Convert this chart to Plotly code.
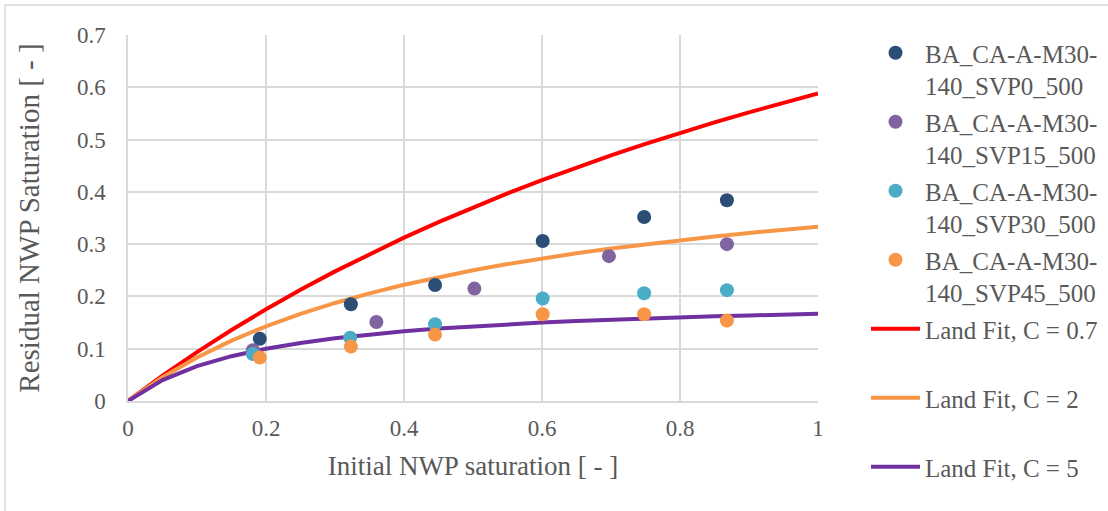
import plotly.graph_objects as go

# Measured residual vs initial non-wetting-phase saturation
sample_names = [
    "BA_CA-A-M30-<br>140_SVP0_500",
    "BA_CA-A-M30-<br>140_SVP15_500",
    "BA_CA-A-M30-<br>140_SVP30_500",
    "BA_CA-A-M30-<br>140_SVP45_500",
]
sample_colors = ["#2C4D75", "#8064A2", "#4BACC6", "#F79646"]

svp0_x = [0.191, 0.323, 0.445, 0.601, 0.748, 0.868]
svp0_y = [0.119, 0.185, 0.222, 0.306, 0.352, 0.384]
svp15_x = [0.181, 0.360, 0.502, 0.697, 0.868]
svp15_y = [0.097, 0.151, 0.215, 0.277, 0.300]
svp30_x = [0.181, 0.322, 0.445, 0.601, 0.748, 0.868]
svp30_y = [0.090, 0.121, 0.147, 0.196, 0.206, 0.212]
svp45_x = [0.191, 0.323, 0.445, 0.601, 0.748, 0.868]
svp45_y = [0.083, 0.104, 0.127, 0.166, 0.166, 0.154]

# Land trapping curves
fit_x = [0.0, 0.05, 0.1, 0.15, 0.2, 0.25, 0.3, 0.35, 0.4, 0.45, 0.5,
         0.55, 0.6, 0.65, 0.7, 0.75, 0.8, 0.85, 0.9, 0.95, 1.0]
fit_c07 = [0.0, 0.0483, 0.0935, 0.1357, 0.1754, 0.2128, 0.2479, 0.2811, 0.3125, 0.3422, 0.3704,
           0.3971, 0.4225, 0.4467, 0.4698, 0.4918, 0.5128, 0.5329, 0.5521, 0.5706, 0.5882]
fit_c2 = [0.0, 0.0455, 0.0833, 0.1154, 0.1429, 0.1667, 0.1875, 0.2059, 0.2222, 0.2368, 0.25,
          0.2619, 0.2727, 0.2826, 0.2917, 0.3, 0.3077, 0.3148, 0.3214, 0.3276, 0.3333]
fit_c5 = [0.0, 0.04, 0.0667, 0.0857, 0.1, 0.1111, 0.12, 0.1273, 0.1333, 0.1385, 0.1429,
          0.1467, 0.15, 0.1529, 0.1556, 0.1579, 0.16, 0.1619, 0.1636, 0.1652, 0.1667]
fit_names = ["Land Fit, C = 0.7<br> ", "Land Fit, C = 2<br> ", "Land Fit, C = 5"]
fit_colors = ["#FF0000", "#F79646", "#7030A0"]

x_ticks = [0, 0.2, 0.4, 0.6, 0.8, 1]
x_tick_text = ["0", "0.2", "0.4", "0.6", "0.8", "1"]
y_ticks = [0, 0.1, 0.2, 0.3, 0.4, 0.5, 0.6, 0.7]
y_tick_text = ["0", "0.1", "0.2", "0.3", "0.4", "0.5", "0.6", "0.7"]

FONT = "Liberation Serif, Times New Roman, serif"
TXT = "#595959"
GRID = "#D9D9D9"

fig = go.Figure()

# Fit lines drawn first so the markers sit on top
for name, ys, col, grp in zip(fit_names, [fit_c07, fit_c2, fit_c5], fit_colors, ["g5", "g6", "g7"]):
    fig.add_trace(go.Scatter(
        x=fit_x, y=ys, mode="lines", name=name,
        line=dict(color=col, width=4), legendgroup=grp, legendrank=int(grp[1:]),
    ))

for name, xs, ys, col, grp in zip(sample_names,
                                  [svp0_x, svp15_x, svp30_x, svp45_x],
                                  [svp0_y, svp15_y, svp30_y, svp45_y],
                                  sample_colors, ["g1", "g2", "g3", "g4"]):
    fig.add_trace(go.Scatter(
        x=xs, y=ys, mode="markers", name=name,
        marker=dict(color=col, size=14, line=dict(width=0)),
        legendgroup=grp, legendrank=int(grp[1:]),
    ))

fig.update_layout(
    width=1108, height=511,
    margin=dict(l=128, r=290, t=35, b=110, autoexpand=False),
    paper_bgcolor="white", plot_bgcolor="white",
    font=dict(family=FONT, size=23, color=TXT),
    showlegend=True,
    legend=dict(
        x=(866 - 128) / 690, xanchor="left", y=1 + 5 / 366, yanchor="top",
        xref="paper", yref="paper",
        font=dict(family=FONT, size=25, color=TXT),
        valign="top", tracegroupgap=1, itemwidth=49,
        bgcolor="rgba(0,0,0,0)", maxheight=505,
    ),
    xaxis=dict(
        range=[0, 1], tickvals=x_ticks, ticktext=x_tick_text,
        showgrid=True, gridcolor=GRID, gridwidth=1.5,
        showline=True, linecolor=GRID, linewidth=1.5,
        zeroline=False, ticks="", ticklabelstandoff=6,
        title=dict(text="Initial NWP saturation [ - ]", font=dict(size=27, color=TXT), standoff=16),
    ),
    yaxis=dict(
        range=[0, 0.7], tickvals=y_ticks, ticktext=y_tick_text,
        showgrid=True, gridcolor=GRID, gridwidth=1.5,
        showline=True, linecolor=GRID, linewidth=1.5,
        zeroline=False, ticks="", ticklabelstandoff=16,
        title=dict(text="Residual NWP Saturation [ - ]", font=dict(size=29, color=TXT), standoff=29),
    ),
    shapes=[dict(
        type="rect", xref="paper", yref="paper",
        x0=-123 / 690, x1=1.6, y0=-0.4, y1=1 + 30 / 366,
        line=dict(color="#D9D9D9", width=1.5), fillcolor="rgba(0,0,0,0)", layer="below",
    )],
)

fig.write_html("out.html")
